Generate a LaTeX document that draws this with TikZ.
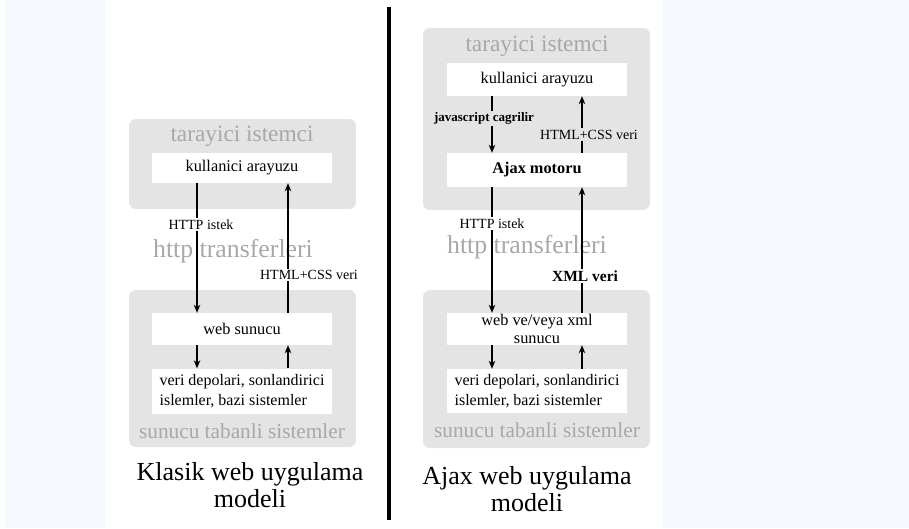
\documentclass[tikz,border=0pt]{standalone}
\usepackage{fontspec}
\setmainfont{Liberation Serif}
\usetikzlibrary{arrows.meta,positioning}

\definecolor{panelgray}{HTML}{E4E4E4}
\definecolor{titlegray}{HTML}{A8A8A8}
\definecolor{pageblue}{HTML}{F6FAFE}

\tikzset{
  panel/.style={fill=panelgray, rounded corners=7pt},
  ibox/.style={fill=white, minimum width=180pt, inner sep=0pt, align=center,
    font=\fontsize{16.3}{18}\selectfont},
  databox/.style={ibox, minimum height=45pt, align=left,
    font=\fontsize{16}{20}\selectfont},
  gtitle/.style={text=titlegray, font=\fontsize{23.3}{25}\selectfont},
  stitle/.style={text=titlegray, font=\fontsize{21.3}{23}\selectfont},
  bigtitle/.style={text=titlegray, font=\fontsize{25.8}{27}\selectfont},
  lbl/.style={font=\fontsize{14}{15}\selectfont, inner sep=1.5pt},
  flow/.style={line width=1.2pt, -{Stealth[length=8pt,width=6.5pt,inset=2.5pt]}},
  caption/.style={align=center, font=\fontsize{26}{27}\selectfont},
}

\begin{document}
\begin{tikzpicture}[x=1pt,y=-1pt]
  \useasboundingbox (0,0) rectangle (909,528);
  \fill[pageblue] (5,0) rectangle (105,528);
  \fill[pageblue] (663,0) rectangle (909,528);

  % klasik model
  \fill[panel] (129,119) rectangle (356,209);
  \fill[panel] (129,290) rectangle (356,447);
  \node[gtitle] (Ltitle) at (242,136) {tarayici istemci};
  \node[ibox, minimum height=30pt] (Lui) at (242,168) {kullanici arayuzu};
  \node[ibox, minimum height=32pt] (Lweb) at (242,329) {web sunucu};
  \node[databox] (Ldata) at (242,391)
    {veri depolari, sonlandirici\\islemler, bazi sistemler};
  \node[stitle] (Lsrv) at (242,431) {sunucu tabanli sistemler};
  \node[bigtitle] (Lhttp) at (233,251) {http transferleri};
  \node[caption] (Lcap) at (250,485) {Klasik web uygulama\\modeli};

  \coordinate (Ldn) at (197,0);
  \coordinate (Lup) at (288,0);
  \draw[flow] (Lui.south -| Ldn) -- node[lbl, fill=white, pos=0.32, xshift=4pt] (Lreq) {HTTP istek} (Lweb.north -| Ldn);
  \draw[flow] (Lweb.north -| Lup) -- node[lbl, fill=white, pos=0.29, xshift=21pt] (Lres) {HTML+CSS veri} (Lui.south -| Lup);
  \draw[flow] (Lweb.south -| Ldn) -- (Ldata.north -| Ldn);
  \draw[flow] (Ldata.north -| Lup) -- (Lweb.south -| Lup);

  % ayirici
  \draw[line width=4pt] (389,7) -- (389,520);

  % ajax model
  \fill[panel] (423,28) rectangle (650,210);
  \fill[panel] (423,290) rectangle (650,448);
  \node[gtitle] (Rtitle) at (537,46) {tarayici istemci};
  \node[ibox, minimum height=33pt] (Rui) at (537,79.5) {kullanici arayuzu};
  \node[ibox, minimum height=34pt, font=\fontsize{16.3}{18}\selectfont\bfseries] (Rajx) at (537,170) {Ajax motoru};
  \node[ibox, minimum height=32pt] (Rweb) at (537,329) {web ve/veya xml\\sunucu};
  \node[databox, minimum height=44pt] (Rdata) at (537,391)
    {veri depolari, sonlandirici\\islemler, bazi sistemler};
  \node[stitle] (Rsrv) at (537,430) {sunucu tabanli sistemler};
  \node[bigtitle] (Rhttp) at (527,247) {http transferleri};
  \node[caption] (Rcap) at (527,489) {Ajax web uygulama\\modeli};

  \coordinate (Rdn) at (492,0);
  \coordinate (Rup) at (582,0);
  \draw[flow] (Rui.south -| Rdn) -- node[lbl, fill=panelgray, pos=0.4, xshift=-8pt, font=\fontsize{13}{15}\selectfont\bfseries] (Rjs) {javascript cagrilir} (Rajx.north -| Rdn);
  \draw[flow] (Rajx.north -| Rup) -- node[lbl, fill=panelgray, pos=0.32, xshift=7pt] (Rhtml) {HTML+CSS veri} (Rui.south -| Rup);
  \draw[flow] (Rajx.south -| Rdn) -- node[lbl, fill=white, pos=0.29] (Rreq) {HTTP istek} (Rweb.north -| Rdn);
  \draw[flow] (Rweb.north -| Rup) -- node[lbl, fill=white, pos=0.29, xshift=3pt, font=\fontsize{15.5}{17}\selectfont\bfseries] (Rxml) {XML veri} (Rajx.south -| Rup);
  \draw[flow] (Rweb.south -| Rdn) -- (Rdata.north -| Rdn);
  \draw[flow] (Rdata.north -| Rup) -- (Rweb.south -| Rup);
\end{tikzpicture}
\end{document}
